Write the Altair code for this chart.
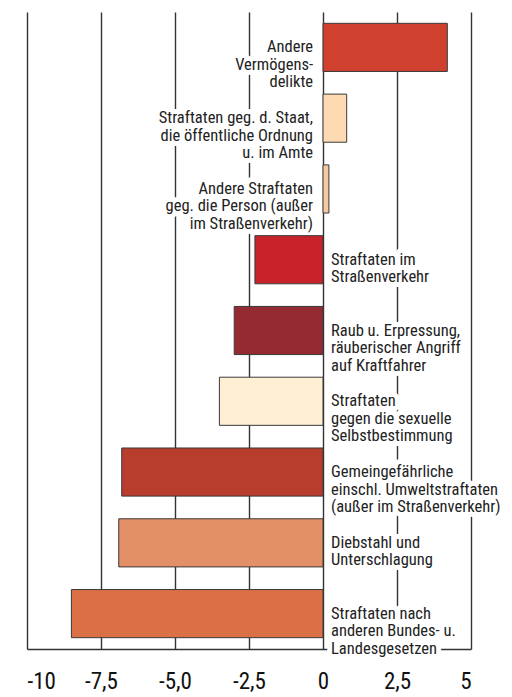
import altair as alt
import pandas as pd

labels = [
    ["Andere", "Vermögens-", "delikte"],
    ["Straftaten geg. d. Staat,", "die öffentliche Ordnung", "u. im Amte"],
    ["Andere Straftaten", "geg. die Person (außer", "im Straßenverkehr)"],
    ["Straftaten im", "Straßenverkehr"],
    ["Raub u. Erpressung,", "räuberischer Angriff", "auf Kraftfahrer"],
    ["Straftaten", "gegen die sexuelle", "Selbstbestimmung"],
    ["Gemeingefährliche", "einschl. Umweltstraftaten", "(außer im Straßenverkehr)"],
    ["Diebstahl und", "Unterschlagung"],
    ["Straftaten nach", "anderen Bundes- u.", "Landesgesetzen"],
]
values = [4.2, 0.8, 0.2, -2.3, -3.0, -3.5, -6.8, -6.9, -8.5]
colors = ["#CF412E", "#FDDAB2", "#F6C9A0", "#C8232B", "#942B33",
          "#FEEFD4", "#B83D2D", "#E39066", "#DB6F45"]
ticks = [-10, -7.5, -5, -2.5, 0, 2.5, 5]

df = pd.DataFrame({
    "order": list(range(len(values))),
    "label": labels,
    "value": values,
    "color": colors,
})

FONT = "Roboto Condensed, Roboto, sans-serif"

x = alt.X("value:Q",
          scale=alt.Scale(domain=[-10, 5], nice=False, zero=False),
          axis=alt.Axis(values=ticks, grid=True, gridColor="#333333", gridWidth=1.4,
                        gridOpacity=1, domainColor="#333333", domainWidth=1.4,
                        ticks=False, labelFontSize=23, labelFont=FONT,
                        labelColor="#111111", labelPadding=21, title=None,
                        labelExpr="replace(replace((datum.value % 5 == 0 && datum.value != -5) ? format(datum.value, 'd') : format(datum.value, '.1f'), '.', ','), '\u2212', '-')"))
y = alt.Y("order:O", axis=None,
          scale=alt.Scale(paddingInner=0.32, paddingOuter=0.16))

base = alt.Chart(df)

bars = base.mark_bar(stroke="#3a3a3a", strokeWidth=1).encode(
    x=x, x2=alt.datum(0), y=y,
    color=alt.Color("color:N", scale=None),
)

def txt(cond, align, dx, halo):
    props = dict(align=align, baseline="middle", dx=dx, font=FONT, fontSize=16.5,
                 lineHeight=17.5)
    if halo:
        props.update(stroke="white", strokeWidth=10, strokeJoin="round", fill="white")
    else:
        props.update(fill="#222222")
    return base.transform_filter(cond).mark_text(**props).encode(
        x=alt.datum(0), y=y, text="label")

layers = [
    txt("datum.value >= 0", "right", -10, True),
    txt("datum.value < 0", "left", 8, True),
    bars,
    txt("datum.value >= 0", "right", -10, False),
    txt("datum.value < 0", "left", 8, False),
]

chart = alt.layer(*layers).properties(
    width=444, height=637,
    autosize=alt.AutoSizeParams(type="none"),
    padding={"left": 19, "top": 4, "right": 33, "bottom": 48},
).configure_view(stroke=None)

chart.save("out.html", embed_options={"renderer": "svg", "actions": False})
